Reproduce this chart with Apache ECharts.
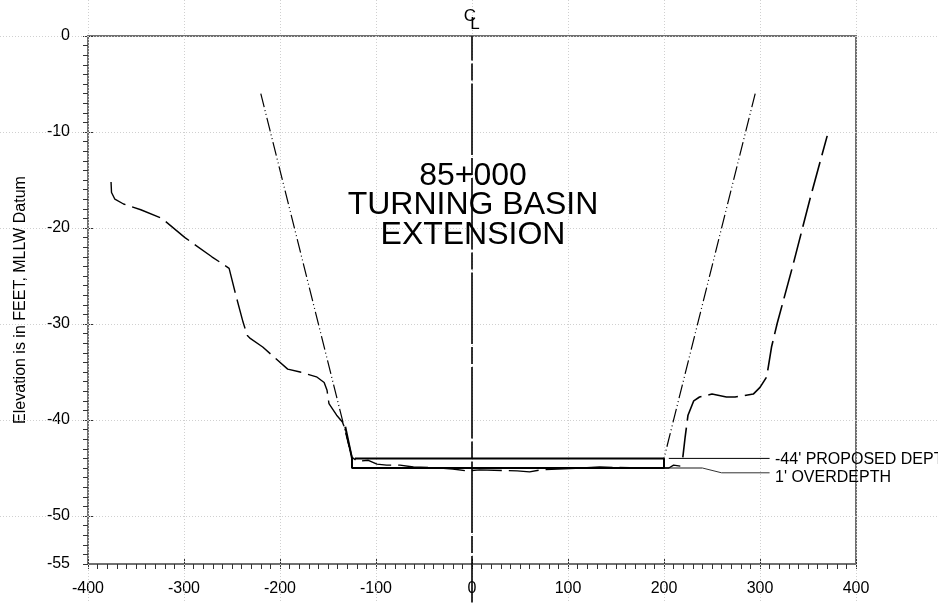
<!DOCTYPE html>
<html><head><meta charset="utf-8">
<style>html,body{margin:0;padding:0;background:#fff;overflow:hidden}#c{width:938px;height:603px}</style>
<script src="https://cdn.jsdelivr.net/npm/echarts@6/dist/echarts.min.js"></script>
</head><body><div id="c"></div>
<script>
const xTickValues = [-400,-300,-200,-100,0,100,200,300,400];
const yTickValues = [0,-10,-20,-30,-40,-50,-55];
const yGridValues = [0,-10,-20,-30,-40,-50];
const channelSection = [[-132,-40.7],[-125,-44],[-125,-45],[200,-45],[200,-44],[-122,-44]];
const sideSlopeLeft = [[-220,-6],[-125,-44]];
const sideSlopeRight = [[295,-6],[200,-44]];
const groundLeft = [[-376,-15.2],[-375.5,-16.3],[-372,-17],[-363,-17.5],[-345,-18.1],[-323,-19],[-299,-21],[-271,-23],[-253,-24.2],[-246,-27],[-238.5,-29.8],[-234,-31.2],[-231,-31.5],[-218,-32.4],[-192,-34.7],[-179,-35],[-162,-35.5],[-154,-36.1],[-151,-36.9],[-149,-38.3],[-141,-39.5],[-135,-40.2],[-132,-41],[-125,-43.9],[-119,-44.3],[-108,-44.2],[-99,-44.6],[-89,-44.7],[-75,-44.7],[-61,-44.9],[-33,-45],[-20,-45.1],[-5,-45.3],[8,-45.2],[47,-45.3],[60,-45.4],[71,-45.2],[133,-44.9],[175,-45],[205,-45],[210,-44.7],[217,-44.8]];
const groundRight = [[219.6,-43.9],[222,-41.8],[225,-39.5],[231,-38],[237,-37.6],[250,-37.3],[265,-37.6],[274,-37.6],[293,-37.3],[300,-36.6],[307,-35.5],[312,-32.4],[318,-29.9],[334,-24],[352,-17],[370,-10.4]];
const centerLine = [[0,0],[0,-59]];
const leaderDesign = [[205,-44],[310,-44]];
const leaderOverNear = [[200,-45],[240,-45]];
const leaderOverFar = [[240,-45],[260,-45.5],[310,-45.5]];

const chart = echarts.init(document.getElementById('c'), null, {renderer:'canvas'});
const lineSeries = (data, width, type, color, z, offset) => ({type:'line', data, showSymbol:false, symbol:'none', clip:false, silent:true, z:z||5,
  lineStyle:{color:color||'#000', width, type, dashOffset:offset||0}});
const dotStyle = {stroke:'#d0d0d0', lineWidth:1, lineDash:[1,2]};
const fullH = (p, api) => { const c = api.coord([0, api.value(0)]); return {type:'line', shape:{x1:0,y1:Math.round(c[1])+.5,x2:api.getWidth(),y2:Math.round(c[1])+.5}, style:dotStyle}; };
const fullV = (p, api) => { const c = api.coord([api.value(0), 0]); return {type:'line', shape:{x1:Math.round(c[0])+.5,y1:0,x2:Math.round(c[0])+.5,y2:api.getHeight()}, style:dotStyle}; };
const font = 'Liberation Sans';
const noLine = {show:false,onZero:false};
chart.setOption({
  animation:false,
  backgroundColor:'#fff',
  textStyle:{fontFamily:font},
  grid:{left:88,right:82,top:36,bottom:39,show:true,borderColor:'#707070',borderWidth:2,backgroundColor:'transparent'},
  xAxis:[
    {type:'value',min:-400,max:400,interval:100,position:'bottom',splitLine:{show:false},
     axisLine:noLine,
     axisTick:{show:true,length:5,lineStyle:{color:'#333',width:1}},
     minorTick:{show:true,splitNumber:10,length:5,lineStyle:{color:'#333',width:1}},
     minorSplitLine:{show:false},
     axisLabel:{color:'#000',fontSize:16,margin:17,fontFamily:font,hideOverlap:false,showMinLabel:true,showMaxLabel:true}},
    {type:'value',min:-400,max:400,interval:100,position:'bottom',splitLine:{show:false},
     axisLine:noLine,axisLabel:{show:false},
     axisTick:{show:true,inside:true,length:5,lineStyle:{color:'#333',width:1}}}
  ],
  yAxis:[
    {type:'value',min:-55,max:0,interval:1,position:'left',splitLine:{show:false},
     axisLine:noLine,
     axisTick:{show:true,length:5,lineStyle:{color:'#333',width:1}},
     axisLabel:{color:'#000',fontSize:16,margin:18,fontFamily:font,customValues:yTickValues,hideOverlap:false},
     name:'Elevation is in FEET, MLLW Datum',nameLocation:'middle',nameGap:59,nameRotate:90,
     nameTextStyle:{color:'#000',fontSize:16,fontFamily:font}},
    {type:'value',min:-55,max:0,position:'left',splitLine:{show:false},
     axisLine:noLine,axisLabel:{show:false},
     axisTick:{show:true,inside:true,length:5,customValues:yGridValues,lineStyle:{color:'#333',width:1}}}
  ],
  series:[
    {type:'custom',data:yGridValues.map(v=>[v]),renderItem:fullH,encode:{x:[],y:0},silent:true,z:1},
    {type:'custom',data:xTickValues.map(v=>[v]),renderItem:fullV,encode:{x:0,y:[]},silent:true,z:1},
    lineSeries(leaderDesign,1,'solid','#000',4),
    lineSeries(leaderOverNear,1.5,'solid','#666',4),
    lineSeries(leaderOverFar,1,'solid','#333',4),
    lineSeries(sideSlopeLeft,1.2,[14,3,1,3,1,3]),
    lineSeries(sideSlopeRight,1.2,[14,3,1,3,1,3]),
    lineSeries(groundLeft,1.4,[30,7]),
    lineSeries(groundRight,1.6,[30,7]),
    lineSeries(centerLine,1.6,[71.5,3,17,3],'#000',5,47),
    lineSeries(channelSection,2,'solid','#000',6)
  ],
  graphic:[
    {type:'text',x:473,y:176,style:{text:'85+000',font:'32px "Liberation Sans"',fill:'#000',textAlign:'center',textVerticalAlign:'middle'},z:10},
    {type:'text',x:473,y:205,style:{text:'TURNING BASIN',font:'32px "Liberation Sans"',fill:'#000',textAlign:'center',textVerticalAlign:'middle'},z:10},
    {type:'text',x:473,y:235,style:{text:'EXTENSION',font:'32px "Liberation Sans"',fill:'#000',textAlign:'center',textVerticalAlign:'middle'},z:10},
    {type:'text',x:775,y:460,style:{text:"-44' PROPOSED DEPTH",font:'16px "Liberation Sans"',fill:'#000',textVerticalAlign:'middle'},z:10},
    {type:'text',x:775,y:478,style:{text:"1' OVERDEPTH",font:'16px "Liberation Sans"',fill:'#000',textVerticalAlign:'middle'},z:10},
    {type:'text',x:470,y:16,style:{text:'C',font:'17px "Liberation Sans"',fill:'#000',textAlign:'center',textVerticalAlign:'middle'},z:10},
    {type:'text',x:475,y:24,style:{text:'L',font:'17px "Liberation Sans"',fill:'#000',textAlign:'center',textVerticalAlign:'middle'},z:10}
  ]
});
</script></body></html>
